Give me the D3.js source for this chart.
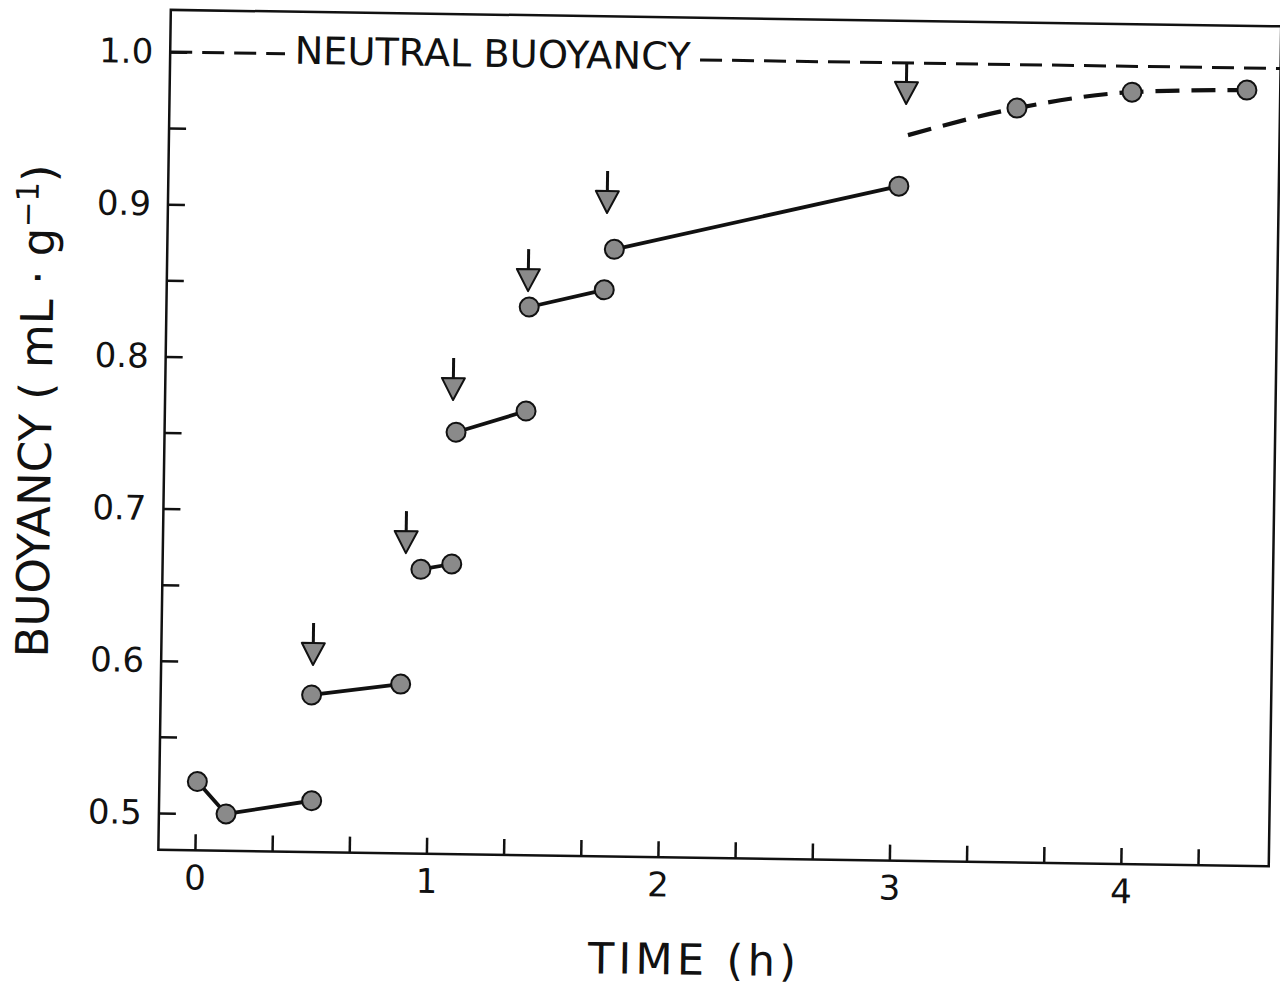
<!DOCTYPE html>
<html>
<head>
<meta charset="utf-8">
<script src="https://cdn.jsdelivr.net/npm/d3@7"></script>
<style>
  html, body { margin: 0; padding: 0; background: #fff; }
  svg { display: block; }
  text { font-family: "DejaVu Sans", "Liberation Sans", sans-serif; fill: #111; }
</style>
</head>
<body>
<svg id="chart" width="1280" height="985"></svg>
<script>
// ---------- data ----------
// solid segments between feeding events: time (h) and buoyancy (mL/g)
const seg1T = [0.006, 0.132, 0.501];
const seg1V = [0.521, 0.500, 0.5095];
const seg2T = [0.494, 0.878];
const seg2V = [0.579, 0.587];
const seg3T = [0.958, 1.091];
const seg3V = [0.6626, 0.6664];
const seg4T = [1.101, 1.402];
const seg4V = [0.753, 0.7676];
const seg5T = [1.409, 1.732];
const seg5V = [0.836, 0.848];
const seg6T = [1.773, 2.998];
const seg6V = [0.8747, 0.919];
// dashed approach to neutral buoyancy (first point has no marker)
const dashT = [3.034, 3.503, 3.999, 4.495];
const dashV = [0.9526, 0.9714, 0.983, 0.9855];
const dashMarkerFrom = 1;
// arrows (tip position)
const arrowT = [0.498, 0.892, 1.086, 1.403, 1.739, 3.024];
const arrowV = [0.5987, 0.6731, 0.7741, 0.8464, 0.8985, 0.973];
// neutral buoyancy reference line (two dashed pieces around the label)
const neutralValue = 1.0;
const neutralLeftT = [-0.158, 0.338];
const neutralRightT = [2.131, 4.639];
const neutralLabel = "NEUTRAL BUOYANCY";
// axes
const xDomain = [-0.158, 4.639];
const yDomain = [0.4758, 1.0277];
const xTicks = [0, 1/3, 2/3, 1, 4/3, 5/3, 2, 7/3, 8/3, 3, 10/3, 11/3, 4, 13/3];
const xTickLabelValues = [0, 1, 2, 3, 4];
const xTickLabels = ["0", "1", "2", "3", "4"];
const yTicks = [0.5, 0.55, 0.6, 0.65, 0.7, 0.75, 0.8, 0.85, 0.9, 0.95, 1.0];
const yTickLabelValues = [0.5, 0.6, 0.7, 0.8, 0.9, 1.0];
const yTickLabels = ["0.5", "0.6", "0.7", "0.8", "0.9", "1.0"];
const xTitle = "TIME (h)";
const yTitleMain = "BUOYANCY ( mL · g";
const yTitleSup = "−1";
const yTitleEnd = ")";

// ---------- layout ----------
const plotLeft = 164.5, plotRight = 1275, plotTop = 18, plotBottom = 858;
const ink = "#111", grey = "#8a8a8a";

const svg = d3.select("#chart");
// the scanned figure is slightly rotated
const root = svg.append("g").attr("transform", "rotate(0.85, 716, 440)");

const x = d3.scaleLinear().domain(xDomain).range([plotLeft, plotRight]);
const y = d3.scaleLinear().domain(yDomain).range([plotBottom, plotTop]);

// frame
root.append("rect")
  .attr("x", plotLeft).attr("y", plotTop)
  .attr("width", plotRight - plotLeft).attr("height", plotBottom - plotTop)
  .attr("fill", "none").attr("stroke", ink).attr("stroke-width", 2.5);

// y axis
const yAxis = root.append("g")
  .attr("transform", `translate(${plotLeft},0)`)
  .call(d3.axisLeft(y).tickValues(yTicks).tickSize(-17).tickPadding(17)
    .tickFormat(v => {
      const i = yTickLabelValues.findIndex(u => Math.abs(u - v) < 1e-6);
      return i >= 0 ? yTickLabels[i] : "";
    }));
yAxis.select(".domain").remove();
yAxis.selectAll(".tick line").attr("stroke", ink).attr("stroke-width", 2.5);
yAxis.selectAll(".tick text").attr("font-size", 34).attr("fill", ink)
  .style("font-family", "DejaVu Sans");

// x axis
const xAxis = root.append("g")
  .attr("transform", `translate(0,${plotBottom})`)
  .call(d3.axisBottom(x).tickValues(xTicks).tickSize(-16).tickPadding(15)
    .tickFormat(v => {
      const i = xTickLabelValues.findIndex(u => Math.abs(u - v) < 1e-6);
      return i >= 0 ? xTickLabels[i] : "";
    }));
xAxis.select(".domain").remove();
xAxis.selectAll(".tick line").attr("stroke", ink).attr("stroke-width", 2.5);
xAxis.selectAll(".tick text").attr("font-size", 34).attr("fill", ink)
  .style("font-family", "DejaVu Sans");

// axis titles
root.append("text")
  .attr("x", 699.7).attr("y", 975)
  .attr("text-anchor", "middle")
  .attr("font-size", 43)
  .attr("textLength", 208).attr("lengthAdjust", "spacing")
  .text(xTitle);

const yt = root.append("text")
  .attr("transform", "translate(51,421) rotate(-90)")
  .attr("text-anchor", "middle")
  .attr("font-size", 45);
yt.append("tspan").text(yTitleMain);
yt.append("tspan").attr("dy", -16).attr("font-size", 31).text(yTitleSup);
yt.append("tspan").attr("dy", 16).text(yTitleEnd);

// neutral buoyancy line and label
const neutralPieces = [neutralLeftT, neutralRightT];
root.selectAll("line.neutral").data(neutralPieces).join("line")
  .attr("class", "neutral")
  .attr("x1", d => x(d[0])).attr("x2", d => x(d[1]))
  .attr("y1", y(neutralValue)).attr("y2", y(neutralValue))
  .attr("stroke", ink).attr("stroke-width", 3)
  .attr("stroke-dasharray", "22 10");
root.append("text")
  .attr("x", (x(neutralLeftT[1]) + x(neutralRightT[0])) / 2)
  .attr("y", y(neutralValue) + 10)
  .attr("text-anchor", "middle")
  .attr("font-size", 38)
  .attr("textLength", 396).attr("lengthAdjust", "spacingAndGlyphs")
  .text(neutralLabel);

// solid segments
const segments = [
  [seg1T, seg1V], [seg2T, seg2V], [seg3T, seg3V],
  [seg4T, seg4V], [seg5T, seg5V], [seg6T, seg6V]
].map(([ts, vs]) => ts.map((t, i) => ({ t, v: vs[i] })));

const line = d3.line().x(d => x(d.t)).y(d => y(d.v));
root.selectAll("path.seg").data(segments).join("path")
  .attr("class", "seg")
  .attr("d", line)
  .attr("fill", "none").attr("stroke", ink).attr("stroke-width", 3.8);

// dashed approach curve
const dashPts = dashT.map((t, i) => ({ t, v: dashV[i] }));
root.append("path")
  .attr("d", d3.line().x(d => x(d.t)).y(d => y(d.v)).curve(d3.curveMonotoneX)(dashPts))
  .attr("fill", "none").attr("stroke", ink).attr("stroke-width", 4.2)
  .attr("stroke-dasharray", "24 12");

// markers
const markers = segments.flat().concat(dashPts.slice(dashMarkerFrom));
root.selectAll("circle.pt").data(markers).join("circle")
  .attr("class", "pt")
  .attr("cx", d => x(d.t)).attr("cy", d => y(d.v)).attr("r", 9.5)
  .attr("fill", grey).attr("stroke", ink).attr("stroke-width", 2);

// arrows
const arrows = arrowT.map((t, i) => ({ t, v: arrowV[i] }));
const ag = root.selectAll("g.arrow").data(arrows).join("g").attr("class", "arrow")
  .attr("transform", d => `translate(${x(d.t)},${y(d.v)})`);
ag.append("line")
  .attr("x1", 0).attr("x2", 0).attr("y1", -42).attr("y2", -21)
  .attr("stroke", ink).attr("stroke-width", 3);
ag.append("path")
  .attr("d", "M-11.5,-22 L11.5,-22 L0,0 Z")
  .attr("fill", grey).attr("stroke", ink).attr("stroke-width", 2)
  .attr("stroke-linejoin", "round");
</script>
</body>
</html>
